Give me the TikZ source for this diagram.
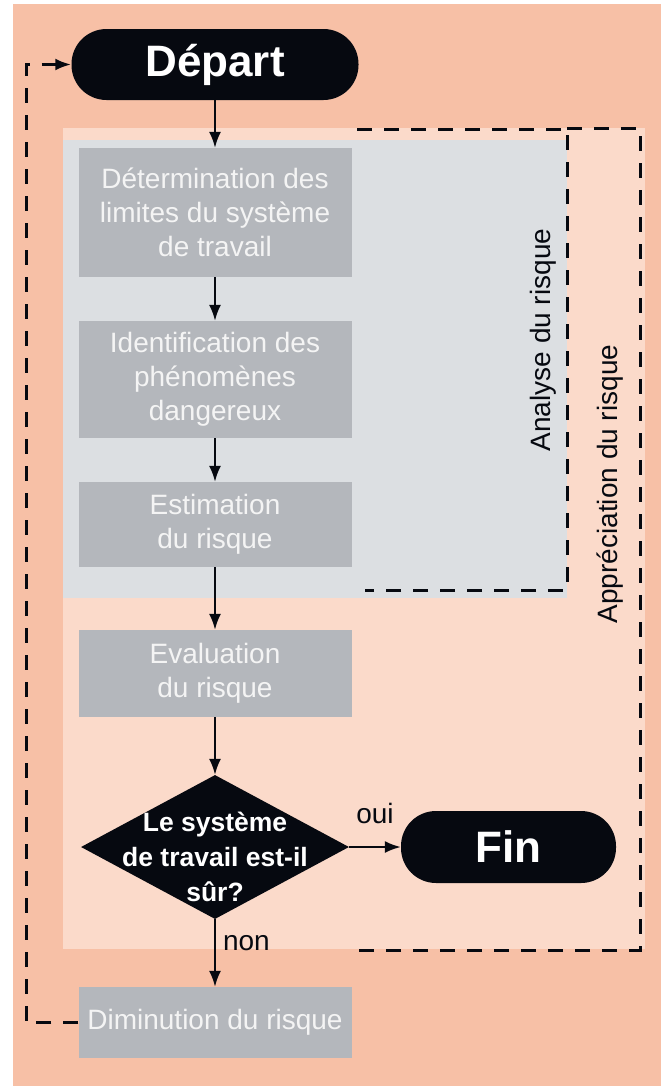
\documentclass[tikz,border=0pt]{standalone}
\usepackage{fontspec}
\setmainfont{Liberation Sans}
\usepackage{xcolor}
\usetikzlibrary{shapes.geometric,arrows.meta}
\definecolor{SalmonBg}{RGB}{247,192,166}
\definecolor{PinkBg}{RGB}{251,218,202}
\definecolor{GreyBg}{RGB}{220,223,226}
\definecolor{BoxGrey}{RGB}{180,183,188}
\definecolor{BoxText}{RGB}{244,244,244}
\definecolor{Ink}{RGB}{6,9,16}

\tikzset{
  terminal/.style={fill=Ink,text=white,rounded corners=35pt,minimum height=71pt,
    inner sep=0pt,font=\fontsize{44}{50}\selectfont\bfseries},
  stepbox/.style={fill=BoxGrey,text=BoxText,minimum width=273pt,inner sep=0pt,
    align=center,font=\fontsize{28}{34}\selectfont},
  decision/.style={diamond,fill=Ink,minimum width=268pt,minimum height=144pt,inner sep=0pt},
  decisiontext/.style={text=white,align=center,inner sep=0pt,
    font=\fontsize{26.5}{35}\selectfont\bfseries},
  lab/.style={text=Ink,inner sep=0pt,font=\fontsize{28}{34}\selectfont},
  flow/.style={draw=Ink,line width=2pt,-{Latex[length=16pt,width=12pt]}},
  regionline/.style={draw=Ink,line width=3pt,dash pattern=on 15pt off 12pt},
  loopback/.style={regionline,-{Latex[length=16pt,width=12pt]}},
}

\begin{document}
\begin{tikzpicture}[x=1pt,y=-1pt]
  \useasboundingbox (0,0) rectangle (661,1088);
  % backgrounds of the two zones
  \fill[SalmonBg] (13,4) rectangle (661,1086);
  \fill[PinkBg] (63,128) rectangle (645,949);
  \fill[GreyBg] (63,140) rectangle (567,598);

  \node[terminal,minimum width=287pt] (depart) at (215,64.5) {Départ};
  \node[stepbox,minimum height=129pt] (limits) at (215,212.5) {Détermination des\\limites du système\\de travail};
  \node[stepbox,minimum height=117pt] (hazards) at (215,379.5) {Identification des\\phénomènes\\dangereux};
  \node[stepbox,minimum height=85pt] (estim) at (215,524.5) {Estimation\\du risque};
  \node[stepbox,minimum height=87pt] (evalu) at (215,673.5) {Evaluation\\du risque};
  \node[decision] (safe) at (215,847) {};
  \node[decisiontext] (safetext) at (215,857) {Le système\\de travail est-il\\sûr?};
  \node[terminal,minimum width=215pt,minimum height=72pt] (fin) at (508.5,847) {Fin};
  \node[stepbox,minimum height=71pt] (reduce) at (215,1022.5) {Diminution du risque};

  \node[lab,rotate=90] (analyse) at (543,340) {Analyse du risque};
  \node[lab,rotate=90] (apprec) at (610,484) {Appréciation du risque};

  % dashed brackets of the zones
  \draw[regionline] (357,129) -- (567,129) -- (567,590) -- (365,590);
  \draw[regionline] (567,128) -- (640,128) -- (640,950) -- (353,950);

  \draw[flow] (depart) -- (limits);
  \draw[flow] (limits) -- (hazards);
  \draw[flow] (hazards) -- (estim);
  \draw[flow] (estim) -- (evalu);
  \draw[flow] (evalu) -- (safe);
  \draw[flow] (safe) -- node[lab,above=22pt] {oui} (fin);
  \draw[flow] (safe) -- node[lab,pos=0.36,anchor=west,xshift=7pt] {non} (reduce);

  \coordinate (rail) at (26,0);
  \draw[loopback] (reduce.west) -- (reduce.west -| rail) -- (rail |- depart.west) -- (depart.west);
\end{tikzpicture}
\end{document}
